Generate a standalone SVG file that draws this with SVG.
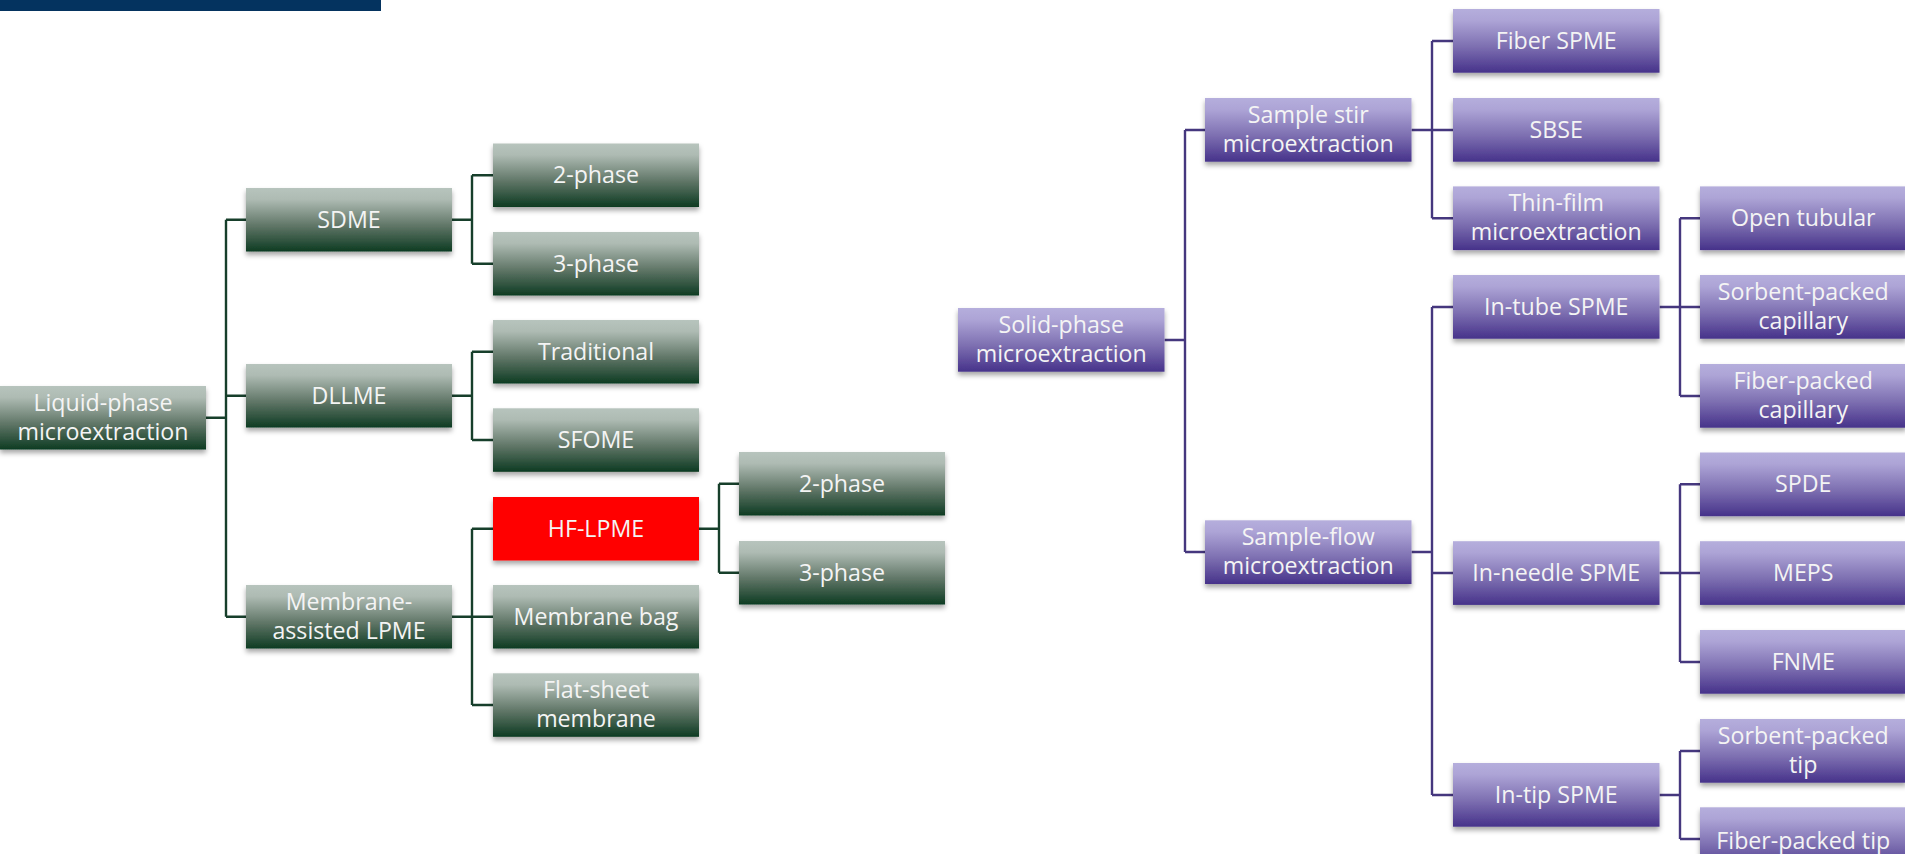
<svg xmlns="http://www.w3.org/2000/svg" width="1905" height="854" viewBox="0 0 1905 854">
<defs>
<linearGradient id="gGreen" x1="0" y1="0" x2="0" y2="1">
<stop offset="0" stop-color="#B7C4BD"/>
<stop offset="0.18" stop-color="#AEBBB3"/>
<stop offset="0.6" stop-color="#5F7566"/>
<stop offset="1" stop-color="#0D3B22"/>
</linearGradient>
<linearGradient id="gPurple" x1="0" y1="0" x2="0" y2="1">
<stop offset="0" stop-color="#B5AEDC"/>
<stop offset="0.18" stop-color="#ADA4D6"/>
<stop offset="0.6" stop-color="#7C6EB0"/>
<stop offset="1" stop-color="#46328A"/>
</linearGradient>
<filter id="shadow" x="-10%" y="-20%" width="120%" height="150%">
<feDropShadow dx="0" dy="3.5" stdDeviation="2.5" flood-color="#000" flood-opacity="0.35"/>
</filter>
</defs>
<style>
.g rect{fill:url(#gGreen);filter:url(#shadow)}
.p rect{fill:url(#gPurple);filter:url(#shadow)}
.r rect{fill:#FF0000;filter:url(#shadow)}
text{font-family:"Open Sans","Liberation Sans",sans-serif;font-size:23.2px;fill:#F4F4F4;text-anchor:middle}
.cg{stroke:#173F2B;stroke-width:2.4;fill:none}
.cp{stroke:#45377E;stroke-width:2.4;fill:none}
</style>
<rect id="topbar" x="0" y="0" width="381" height="11" fill="#04335F"/>
<g id="connectors">
<path class="cg" d="M206 417.75H226M226 219.75V616.75M226 219.75H246M226 395.75H246M226 616.75H246"/>
<path class="cg" d="M452 219.75H472M472 175.25V263.75M472 175.25H493M472 263.75H493"/>
<path class="cg" d="M452 395.75H472M472 351.75V440M472 351.75H493M472 440H493"/>
<path class="cg" d="M452 616.75H472M472 528.75V705M472 528.75H493M472 616.75H493M472 705H493"/>
<path class="cg" d="M699 528.75H719M719 483.75V572.75M719 483.75H739M719 572.75H739"/>
<path class="cp" d="M1164.5 340H1185M1185 130V552M1185 130H1205M1185 552H1205"/>
<path class="cp" d="M1411.5 130H1432M1432 41V218.3M1432 41H1453M1432 130H1453M1432 218.3H1453"/>
<path class="cp" d="M1411.5 552H1432M1432 307V795M1432 307H1453M1432 573H1453M1432 795H1453"/>
<path class="cp" d="M1659.5 307H1680M1680 218.3V396M1680 218.3H1700M1680 307H1700M1680 396H1700"/>
<path class="cp" d="M1659.5 573H1680M1680 484.3V662M1680 484.3H1700M1680 573H1700M1680 662H1700"/>
<path class="cp" d="M1659.5 795H1680M1680 751V839M1680 751H1700M1680 839H1700"/>
</g>
<g id="lpme" class="g"><rect x="0" y="386" width="206" height="63.5"/><text x="103" y="411">Liquid-phase</text><text x="103" y="440">microextraction</text></g>
<g id="sdme" class="g"><rect x="246" y="188" width="206" height="63.5"/><text x="349" y="227.5">SDME</text></g>
<g id="dllme" class="g"><rect x="246" y="364" width="206" height="63.5"/><text x="349" y="403.5">DLLME</text></g>
<g id="malpme" class="g"><rect x="246" y="585" width="206" height="63.5"/><text x="349" y="610">Membrane-</text><text x="349" y="639">assisted LPME</text></g>
<g id="sdme-2phase" class="g"><rect x="493" y="143.5" width="206" height="63.5"/><text x="596" y="183">2-phase</text></g>
<g id="sdme-3phase" class="g"><rect x="493" y="232" width="206" height="63.5"/><text x="596" y="271.5">3-phase</text></g>
<g id="traditional" class="g"><rect x="493" y="320" width="206" height="63.5"/><text x="596" y="359.5">Traditional</text></g>
<g id="sfome" class="g"><rect x="493" y="408.3" width="206" height="63.5"/><text x="596" y="448">SFOME</text></g>
<g id="hflpme" class="r"><rect x="493" y="497" width="206" height="63.5"/><text x="596" y="536.5">HF-LPME</text></g>
<g id="membranebag" class="g"><rect x="493" y="585" width="206" height="63.5"/><text x="596" y="624.5">Membrane bag</text></g>
<g id="flatsheet" class="g"><rect x="493" y="673.3" width="206" height="63.5"/><text x="596" y="698">Flat-sheet</text><text x="596" y="727">membrane</text></g>
<g id="hf-2phase" class="g"><rect x="739" y="452" width="206" height="63.5"/><text x="842" y="491.5">2-phase</text></g>
<g id="hf-3phase" class="g"><rect x="739" y="541" width="206" height="63.5"/><text x="842" y="580.5">3-phase</text></g>
<g id="spme" class="p"><rect x="958" y="308" width="206.5" height="63.7"/><text x="1061.25" y="333">Solid-phase</text><text x="1061.25" y="362">microextraction</text></g>
<g id="stir" class="p"><rect x="1205" y="98" width="206.5" height="63.7"/><text x="1308.25" y="123">Sample stir</text><text x="1308.25" y="152">microextraction</text></g>
<g id="flow" class="p"><rect x="1205" y="520.3" width="206.5" height="63.7"/><text x="1308.25" y="545">Sample-flow</text><text x="1308.25" y="574">microextraction</text></g>
<g id="fiberspme" class="p"><rect x="1453" y="9" width="206.5" height="63.7"/><text x="1556.25" y="49">Fiber SPME</text></g>
<g id="sbse" class="p"><rect x="1453" y="98" width="206.5" height="63.7"/><text x="1556.25" y="138">SBSE</text></g>
<g id="thinfilm" class="p"><rect x="1453" y="186.4" width="206.5" height="63.7"/><text x="1556.25" y="211.3">Thin-film</text><text x="1556.25" y="240.3">microextraction</text></g>
<g id="intube" class="p"><rect x="1453" y="275" width="206.5" height="63.7"/><text x="1556.25" y="315">In-tube SPME</text></g>
<g id="inneedle" class="p"><rect x="1453" y="541.2" width="206.5" height="63.7"/><text x="1556.25" y="581">In-needle SPME</text></g>
<g id="intip" class="p"><rect x="1453" y="763" width="206.5" height="63.7"/><text x="1556.25" y="803">In-tip SPME</text></g>
<g id="opentubular" class="p"><rect x="1700" y="186.4" width="206.5" height="63.7"/><text x="1803.25" y="226.3">Open tubular</text></g>
<g id="sorbentcap" class="p"><rect x="1700" y="275" width="206.5" height="63.7"/><text x="1803.25" y="300">Sorbent-packed</text><text x="1803.25" y="329">capillary</text></g>
<g id="fibercap" class="p"><rect x="1700" y="364" width="206.5" height="63.7"/><text x="1803.25" y="389">Fiber-packed</text><text x="1803.25" y="418">capillary</text></g>
<g id="spde" class="p"><rect x="1700" y="452.5" width="206.5" height="63.7"/><text x="1803.25" y="492.3">SPDE</text></g>
<g id="meps" class="p"><rect x="1700" y="541.2" width="206.5" height="63.7"/><text x="1803.25" y="581">MEPS</text></g>
<g id="fnme" class="p"><rect x="1700" y="630" width="206.5" height="63.7"/><text x="1803.25" y="670">FNME</text></g>
<g id="sorbenttip" class="p"><rect x="1700" y="719" width="206.5" height="63.7"/><text x="1803.25" y="744">Sorbent-packed</text><text x="1803.25" y="773">tip</text></g>
<g id="fibertip" class="p"><rect x="1700" y="807.3" width="206.5" height="63.7"/><text x="1803.25" y="849">Fiber-packed tip</text></g>
</svg>
